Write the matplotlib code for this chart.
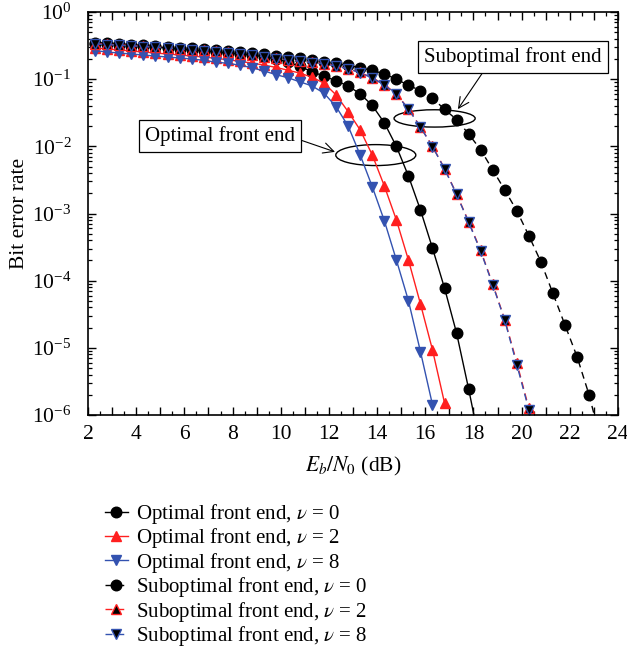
import numpy as np
import matplotlib
matplotlib.use('Agg')
import matplotlib.pyplot as plt
from matplotlib.patches import Ellipse
from matplotlib.legend_handler import HandlerLine2D
from matplotlib.lines import Line2D
from matplotlib.ticker import MultipleLocator, FuncFormatter, LogLocator

plt.rcParams['font.family'] = 'serif'
plt.rcParams['font.serif'] = ['Liberation Serif', 'DejaVu Serif']
plt.rcParams['mathtext.fontset'] = 'stix'

# Eb/N0 grid (dB)
ebn0 = [2.3, 2.8, 3.3, 3.8, 4.3, 4.8, 5.3, 5.8, 6.3, 6.8,
        7.3, 7.8, 8.3, 8.8, 9.3, 9.8, 10.3, 10.8, 11.3, 11.8,
        12.3, 12.8, 13.3, 13.8, 14.3, 14.8, 15.3, 15.8, 16.3, 16.8,
        17.3, 17.8, 18.3, 18.8, 19.3, 19.8, 20.3, 20.8, 21.3, 21.8,
        22.3, 22.8, 23.3]

# optimal front end
ber_opt_0 = [0.339, 0.331, 0.324, 0.316, 0.309, 0.302, 0.292, 0.282, 0.272, 0.263,
             0.254, 0.245, 0.237, 0.229, 0.216, 0.200, 0.180, 0.155, 0.129, 0.111,
             0.0944, 0.0794, 0.0603, 0.0407, 0.0224, 0.0100, 3.63e-3, 1.13e-3, 3.05e-4, 7.76e-5,
             1.66e-5, 2.45e-6, 3.2e-7]
ber_opt_2 = [0.292, 0.282, 0.272, 0.263, 0.254, 0.245, 0.237, 0.229, 0.221, 0.214,
             0.204, 0.195, 0.184, 0.174, 0.162, 0.150, 0.136, 0.123, 0.107, 0.0871,
             0.0582, 0.0328, 0.0175, 7.45e-3, 2.58e-3, 8.04e-4, 2.04e-4, 4.52e-5, 9.33e-6, 1.51e-6]
ber_opt_8 = [0.266, 0.254, 0.245, 0.237, 0.229, 0.221, 0.214, 0.207, 0.200, 0.191,
             0.180, 0.172, 0.162, 0.148, 0.133, 0.117, 0.105, 0.0912, 0.0794, 0.0617,
             0.0389, 0.0200, 7.41e-3, 2.51e-3, 7.83e-4, 2.04e-4, 5.06e-5, 8.81e-6, 1.42e-6]

# suboptimal front end
ber_sub_0 = [0.351, 0.343, 0.335, 0.327, 0.320, 0.313, 0.302, 0.295, 0.288, 0.282,
             0.272, 0.263, 0.254, 0.245, 0.234, 0.224, 0.214, 0.204, 0.193, 0.182,
             0.172, 0.160, 0.148, 0.135, 0.120, 0.100, 0.0813, 0.0676, 0.0525, 0.0355,
             0.0251, 0.0153, 8.91e-3, 4.47e-3, 2.24e-3, 1.10e-3, 4.68e-4, 1.91e-4, 6.46e-5, 2.19e-5,
             7.41e-6, 2.0e-6, 4.0e-7]
ber_sub_2 = [0.339, 0.331, 0.324, 0.316, 0.309, 0.302, 0.295, 0.285, 0.275, 0.269,
             0.260, 0.251, 0.240, 0.229, 0.216, 0.204, 0.195, 0.186, 0.178, 0.170,
             0.158, 0.143, 0.126, 0.105, 0.0832, 0.0603, 0.0363, 0.0195, 0.0100, 4.68e-3,
             1.95e-3, 7.59e-4, 2.82e-4, 8.91e-5, 2.63e-5, 6.03e-6, 1.26e-6]
ber_sub_8 = [0.335, 0.327, 0.320, 0.313, 0.306, 0.299, 0.292, 0.282, 0.272, 0.266,
             0.257, 0.248, 0.237, 0.227, 0.214, 0.202, 0.193, 0.184, 0.176, 0.168,
             0.157, 0.142, 0.125, 0.104, 0.0820, 0.0595, 0.0360, 0.0193, 0.0099, 4.62e-3,
             1.93e-3, 7.41e-4, 2.75e-4, 8.71e-5, 2.57e-5, 5.62e-6, 1.20e-6]

labels = [r'Optimal front end, $\nu$ = 0',
          r'Optimal front end, $\nu$ = 2',
          r'Optimal front end, $\nu$ = 8',
          r'Suboptimal front end, $\nu$ = 0',
          r'Suboptimal front end, $\nu$ = 2',
          r'Suboptimal front end, $\nu$ = 8']

red = '#ff1f1f'
blue = '#3352b0'
dash = (0, (5, 3.5))


class MarkerFirst(HandlerLine2D):
    # marker sits on the left end of the legend line
    def get_xdata(self, legend, xdescent, ydescent, width, height, fontsize):
        xdata = np.array([-xdescent, -xdescent + width])
        return xdata, np.array([-xdescent])


fig = plt.figure(figsize=(6.27, 6.57), dpi=100)
ax = fig.add_axes([0.1404, 0.3683, 0.8452, 0.6134])

series = [
    (ber_opt_0, 'o', 'black', 'black', 'black', '-'),
    (ber_opt_2, '^', red, red, red, '-'),
    (ber_opt_8, 'v', blue, blue, blue, '-'),
    (ber_sub_0, 'o', 'black', 'black', 'black', dash),
    (ber_sub_2, '^', red, 'black', red, dash),
    (ber_sub_8, 'v', blue, 'black', blue, dash),
]

handles = []
for (ber, mk, lc, fc, ec, ls), lab in zip(series, labels):
    ms = 7.6 if mk == 'o' else 7.4
    line, = ax.plot(ebn0[:len(ber)], ber, linestyle=ls, color=lc, lw=1.0,
                    marker=mk, markersize=ms, markerfacecolor=fc,
                    markeredgecolor=ec, markeredgewidth=1.0, label=lab)
    handles.append(line)

ax.set_yscale('log')
ax.set_xlim(2, 24)
ax.set_ylim(1e-6, 1)

ax.xaxis.set_major_locator(MultipleLocator(1))
ax.xaxis.set_minor_locator(MultipleLocator(0.5))
ax.xaxis.set_major_formatter(FuncFormatter(lambda v, p: '%d' % v if int(round(v)) % 2 == 0 else ''))
ax.yaxis.set_major_locator(LogLocator(base=10, numticks=10))
ax.yaxis.set_minor_locator(LogLocator(base=10, subs=np.arange(2, 10), numticks=10))

ax.tick_params(which='both', direction='in', top=True, right=True, labelsize=15.5)
ax.tick_params(which='major', length=6, width=1.0)
ax.tick_params(which='minor', length=3, width=0.9)
ax.tick_params(axis='x', which='major', pad=7)
ax.tick_params(axis='y', which='major', pad=12)
for sp in ax.spines.values():
    sp.set_linewidth(1.2)

ax.set_xlabel(r'$E_b/N_0$ (dB)', fontsize=15.5, labelpad=8)
ax.set_ylabel('Bit error rate', fontsize=15.5)
ax.yaxis.set_label_coords(-0.111, 0.5)

# annotations
ax.add_patch(Ellipse((0.543, 0.645), 0.151, 0.052, transform=ax.transAxes,
                     fill=False, ec='black', lw=1.0))
ax.add_patch(Ellipse((0.654, 0.736), 0.153, 0.043, transform=ax.transAxes,
                     fill=False, ec='black', lw=1.0))

box = dict(boxstyle='square,pad=0.3', fc='white', ec='black', lw=0.9)
ax.annotate('Optimal front end', xy=(0.466, 0.653), xycoords='axes fraction',
            xytext=(0.249, 0.692), textcoords='axes fraction',
            ha='center', va='center', fontsize=15, bbox=box,
            arrowprops=dict(arrowstyle='->,head_length=0.5,head_width=0.25',
                            lw=0.8, color='black', shrinkA=0, shrinkB=0,
                            relpos=(1.0, 0.4)))
ax.annotate('Suboptimal front end', xy=(0.698, 0.759), xycoords='axes fraction',
            xytext=(0.802, 0.888), textcoords='axes fraction',
            ha='center', va='center', fontsize=15, bbox=box,
            arrowprops=dict(arrowstyle='->,head_length=0.5,head_width=0.25',
                            lw=0.8, color='black', shrinkA=0, shrinkB=0,
                            relpos=(0.35, 0.0)))

fig.legend(handles, labels, loc='upper left', bbox_to_anchor=(0.1675, 0.236),
           frameon=False, fontsize=15, handlelength=1.1, handletextpad=0.4,
           labelspacing=0.02, borderpad=0, borderaxespad=0,
           handler_map={Line2D: MarkerFirst(numpoints=1)})

fig.savefig('out.png', dpi=100)
